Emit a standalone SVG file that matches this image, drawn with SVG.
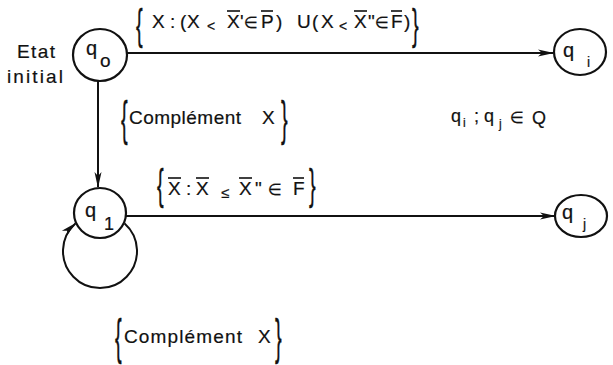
<svg xmlns="http://www.w3.org/2000/svg" width="613" height="365" viewBox="0 0 613 365">
<style>
text{font-family:"Liberation Sans",Arial,sans-serif;fill:#111;stroke:#111;stroke-width:0.2}
.t{font-size:19px}
.s{font-size:14px}
.m{font-family:"DejaVu Sans","Liberation Sans",sans-serif;font-size:16px}
.br{font-size:20px}
.node{fill:none;stroke:#111;stroke-width:2.2}
.edge{fill:none;stroke:#111;stroke-width:2}
.ov{stroke:#111;stroke-width:1.6}
</style>
<defs>
<marker id="ah" viewBox="0 0 16 10" refX="15" refY="5" markerWidth="16" markerHeight="10" markerUnits="userSpaceOnUse" orient="auto">
<path d="M0,1.5 L16,5 L0,8.5 L4,5 Z" fill="#111"/>
</marker>
</defs>
<rect width="613" height="365" fill="#fff"/>

<g id="connectors">
<line class="edge" x1="127" y1="53" x2="553" y2="53" marker-end="url(#ah)"/>
<line class="edge" x1="98" y1="81" x2="98" y2="187" marker-end="url(#ah)"/>
<line class="edge" x1="126" y1="216" x2="555" y2="216" marker-end="url(#ah)"/>
<path class="edge" d="M124.6,223.4 A37,37 0 1 1 75.4,223.4" marker-end="url(#ah)"/>
</g>

<g id="q0">
<ellipse class="node" cx="100" cy="55" rx="27" ry="26"/>
<text class="t" x="86" y="55" style="font-size:20px">q</text>
<text class="t" x="100" y="67" style="font-size:19px">o</text>
</g>
<g id="label-initial">
<text class="t" x="17" y="58" textLength="38" lengthAdjust="spacing">Etat</text>
<text class="t" x="7" y="83" textLength="56" lengthAdjust="spacing">initial</text>
</g>
<g id="q1">
<ellipse class="node" cx="100" cy="213" rx="26" ry="25"/>
<text class="t" x="85" y="217" style="font-size:20px">q</text>
<text class="t" x="104" y="230" style="font-size:18px">1</text>
</g>
<g id="qi">
<ellipse class="node" cx="580" cy="52" rx="26" ry="23"/>
<text class="t" x="563" y="57" style="font-size:20px">q</text>
<text class="s" x="587" y="67">i</text>
</g>
<g id="qj">
<ellipse class="node" cx="581" cy="216" rx="26" ry="21"/>
<text class="t" x="562" y="219" style="font-size:20px">q</text>
<text class="s" x="583" y="229">j</text>
</g>

<g id="label-top">
<text class="br" transform="translate(136,39) scale(1,2.15)">{</text>
<text class="t" x="152" y="28">X</text>
<text class="t" x="170" y="28">:</text>
<text class="t" x="180" y="28">(</text>
<text class="t" x="187" y="28">X</text>
<text class="s" x="207" y="31">&lt;</text>
<text class="t" x="227" y="28">X</text>
<line class="ov" x1="227" y1="11" x2="240" y2="11"/>
<text class="t" x="240" y="28">'</text>
<text class="m" x="244" y="28">∈</text>
<text class="t" x="261" y="28">P</text>
<line class="ov" x1="261" y1="11" x2="273" y2="11"/>
<text class="t" x="276" y="28">)</text>
<text class="t" x="297" y="28">U</text>
<text class="t" x="312" y="28">(</text>
<text class="t" x="321" y="28">X</text>
<text class="s" x="339" y="31">&lt;</text>
<text class="t" x="354" y="28">X</text>
<line class="ov" x1="354" y1="11" x2="367" y2="11"/>
<text class="t" x="368" y="28">"</text>
<text class="m" x="375" y="28">∈</text>
<text class="t" x="391" y="28">F</text>
<line class="ov" x1="391" y1="11" x2="402" y2="11"/>
<text class="t" x="404" y="28">)</text>
<text class="br" transform="translate(412,39) scale(1,2.15)">}</text>
</g>

<g id="label-complement-1">
<text class="br" transform="translate(121,134.8) scale(1,2.39)">{</text>
<text class="t" x="129" y="124" textLength="112" lengthAdjust="spacing">Complément</text>
<text class="t" x="262" y="124">X</text>
<text class="br" transform="translate(281,134.8) scale(1,2.39)">}</text>
</g>

<g id="label-qq">
<text class="t" x="451" y="122" style="font-size:18px">q</text>
<text class="s" x="463" y="127" style="font-size:12px">i</text>
<text class="t" x="474" y="122" style="font-size:18px">;</text>
<text class="t" x="484" y="122" style="font-size:18px">q</text>
<text class="s" x="499" y="128" style="font-size:12px">j</text>
<text class="m" x="510" y="123">∈</text>
<text class="t" x="532" y="124" style="font-size:18px">Q</text>
</g>

<g id="label-mid">
<text class="br" transform="translate(157,199) scale(1,2.13)">{</text>
<text class="t" x="168" y="195">X</text>
<line class="ov" x1="168" y1="178" x2="181" y2="178"/>
<text class="t" x="186" y="195">:</text>
<text class="t" x="196" y="195">X</text>
<line class="ov" x1="196" y1="178" x2="209" y2="178"/>
<text class="s" x="221" y="198" style="font-size:15px">≤</text>
<text class="t" x="239" y="195">X</text>
<line class="ov" x1="239" y1="178" x2="252" y2="178"/>
<text class="t" x="255" y="195">"</text>
<text class="m" x="268" y="195">∈</text>
<text class="t" x="293" y="195">F</text>
<line class="ov" x1="293" y1="178" x2="304" y2="178"/>
<text class="br" transform="translate(309,199) scale(1,2.13)">}</text>
</g>

<g id="label-complement-2">
<text class="br" transform="translate(115,354) scale(1,2.5)">{</text>
<text class="t" x="124" y="343" textLength="118" lengthAdjust="spacing">Complément</text>
<text class="t" x="258" y="343">X</text>
<text class="br" transform="translate(275,354) scale(1,2.5)">}</text>
</g>
</svg>
